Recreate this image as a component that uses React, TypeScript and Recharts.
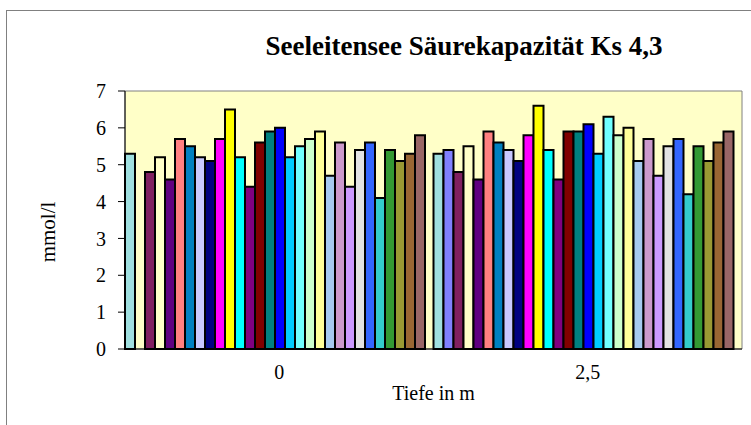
import React from 'react';
import { BarChart, Bar, XAxis, YAxis, ReferenceArea } from 'recharts';

const categories = ['0', '2,5'];
const valuesDepth0 = [5.3, null, 4.8, 5.2, 4.6, 5.7, 5.5, 5.2, 5.1, 5.7, 6.5, 5.2, 4.4, 5.6, 5.9, 6.0, 5.2, 5.5, 5.7, 5.9, 4.7, 5.6, 4.4, 5.4, 5.6, 4.1, 5.4, 5.1, 5.3, 5.8];
const valuesDepth25 = [5.3, 5.4, 4.8, 5.5, 4.6, 5.9, 5.6, 5.4, 5.1, 5.8, 6.6, 5.4, 4.6, 5.9, 5.9, 6.1, 5.3, 6.3, 5.8, 6.0, 5.1, 5.7, 4.7, 5.5, 5.7, 4.2, 5.5, 5.1, 5.6, 5.9];
const seriesColors = [
  '#A0E0E0', '#8080FF', '#802060', '#FFFFC8', '#600080', '#FF8080', '#0080C0', '#C8C8FF', '#000080', '#FF00FF',
  '#FFFF00', '#00FFFF', '#800080', '#800000', '#008080', '#0000FF', '#00CCFF', '#70FFFF', '#CCFFCC', '#FFFF99',
  '#A6CAF0', '#CC99CC', '#CC99FF', '#E3E3E3', '#3366FF', '#33CCCC', '#339933', '#999933', '#996633', '#996666',
];
const yTicks = [0, 1, 2, 3, 4, 5, 6, 7];
const boundaryTicks = [0, 1, 2];

const seriesKeys = seriesColors.map((_, i) => `s${i + 1}`);
const valueRows = [valuesDepth0, valuesDepth25];
const data = categories.map((cat, ci) => {
  const row: Record<string, any> = { depth: cat };
  seriesKeys.forEach((k, si) => {
    row[k] = valueRows[ci][si];
  });
  return row;
});

const FONT = '"Liberation Serif", "Times New Roman", serif';

const YLabel = (props: any) => {
  const vb = props.viewBox || {};
  const x = vb.x - 17;
  const y = vb.y + vb.height / 2 + 12;
  return (
    <text
      x={x}
      y={y}
      transform={`rotate(-90, ${x}, ${y})`}
      textAnchor="middle"
      dominantBaseline="central"
      fontFamily={FONT}
      fontSize={21}
      fill="#000"
    >
      mmol/l
    </text>
  );
};

export default function App() {
  return (
    <div style={{ position: 'fixed', left: 0, top: 0, width: 751, height: 425, overflow: 'hidden', background: '#fff' }}>
      <div style={{ position: 'absolute', left: 6, top: 10, width: 800, height: 500, border: '1px solid #808080' }} />
      <div
        style={{
          position: 'absolute',
          left: 0,
          width: 928,
          top: 29,
          textAlign: 'center',
          fontFamily: FONT,
          fontWeight: 'bold',
          fontSize: 27,
          lineHeight: '34px',
          color: '#000',
          whiteSpace: 'nowrap',
        }}
      >
        Seeleitensee Säurekapazität Ks 4,3
      </div>
      <div style={{ position: 'absolute', left: 0, top: 0 }}>
        <BarChart
          width={751}
          height={425}
          data={data}
          margin={{ top: 91, right: 9, bottom: 25, left: 65 }}
          barGap={0}
          barCategoryGap={0}
        >
          <XAxis
            xAxisId="ticks"
            type="number"
            domain={[0, 2]}
            ticks={boundaryTicks}
            height={0}
            axisLine={false}
            tick={false}
            tickLine={{ stroke: '#000', strokeWidth: 1 }}
            tickSize={7}
            allowDataOverflow
          />
          <XAxis
            xAxisId="cat"
            dataKey="depth"
            height={51}
            axisLine={{ stroke: '#000', strokeWidth: 1 }}
            tickLine={false}
            tickSize={0}
            tickMargin={16}
            tick={{ fill: '#000', fontSize: 20, fontFamily: FONT }}
            label={{ value: 'Tiefe in m', position: 'insideBottom', offset: 0, fill: '#000', fontSize: 20, fontFamily: FONT }}
          />
          <YAxis
            yAxisId="left"
            width={60}
            domain={[0, 7]}
            ticks={yTicks}
            interval={0}
            axisLine={{ stroke: '#000', strokeWidth: 1 }}
            tickLine={{ stroke: '#000' }}
            tickSize={7}
            tickMargin={12}
            tick={{ fill: '#000', fontSize: 20, fontFamily: FONT }}
            label={<YLabel />}
          />
          <ReferenceArea
            xAxisId="cat"
            yAxisId="left"
            x1={categories[0]}
            x2={categories[categories.length - 1]}
            y1={0}
            y2={7}
            fill="#FFFFC8"
            fillOpacity={1}
            stroke="#808080"
            strokeWidth={1}
          />
          {seriesKeys.map((k, i) => (
            <Bar
              key={k}
              dataKey={k}
              xAxisId="cat"
              yAxisId="left"
              fill={seriesColors[i]}
              stroke="#000"
              strokeWidth={2}
              isAnimationActive={false}
            />
          ))}
        </BarChart>
      </div>
    </div>
  );
}
